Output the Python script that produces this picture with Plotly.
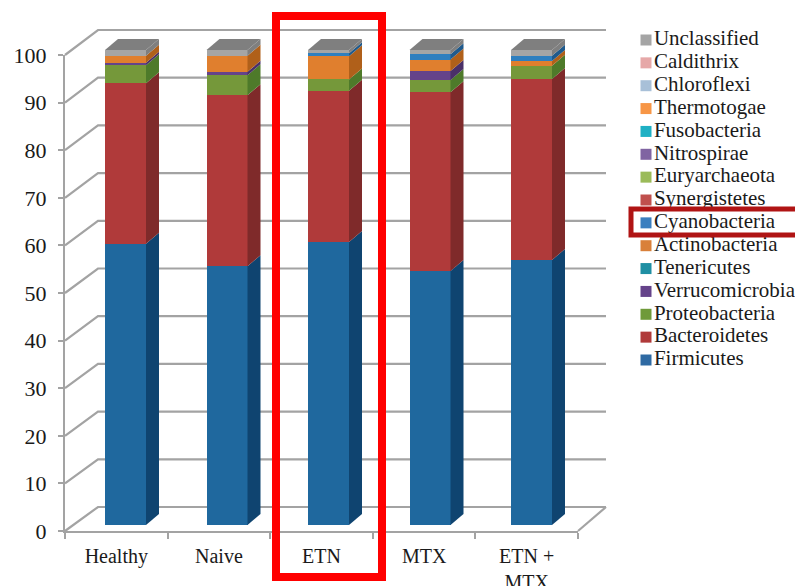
import plotly.graph_objects as go

W, H = 795, 586

groups = ["Healthy", "Naive", "ETN", "MTX", "ETN +<br>MTX"]
names = ["Firmicutes", "Bacteroidetes", "Proteobacteria", "Verrucomicrobia", "Tenericutes",
         "Actinobacteria", "Cyanobacteria", "Synergistetes", "Euryarchaeota", "Nitrospirae",
         "Fusobacteria", "Thermotogae", "Chloroflexi", "Caldithrix", "Unclassified"]

firmicutes = [59.2, 54.5, 59.6, 53.5, 55.8]
bacteroidetes = [33.8, 36.0, 31.8, 37.6, 38.1]
proteobacteria = [3.8, 4.2, 2.4, 2.6, 2.8]
verrucomicrobia = [0.5, 0.7, 0.0, 1.9, 0.0]
tenericutes = [0, 0, 0, 0, 0]
actinobacteria = [1.5, 3.4, 4.9, 2.4, 1.0]
cyanobacteria = [0.0, 0.0, 0.6, 1.1, 1.1]
synergistetes = [0, 0, 0, 0, 0]
euryarchaeota = [0, 0, 0, 0, 0]
nitrospirae = [0, 0, 0, 0, 0]
fusobacteria = [0, 0, 0, 0, 0]
thermotogae = [0, 0, 0, 0, 0]
chloroflexi = [0, 0, 0, 0, 0]
caldithrix = [0, 0, 0, 0, 0]
unclassified = [1.2, 1.2, 0.7, 0.9, 1.2]

series = [firmicutes, bacteroidetes, proteobacteria, verrucomicrobia, tenericutes,
          actinobacteria, cyanobacteria, synergistetes, euryarchaeota, nitrospirae,
          fusobacteria, thermotogae, chloroflexi, caldithrix, unclassified]

front_colors = ["#1F689E", "#B03A3A", "#75983A", "#65438A", "#1F8FA3",
                "#E07F2E", "#2F7FBF", "#C0504D", "#9BBB59", "#8064A2",
                "#1FB0C4", "#F79646", "#A8C0D8", "#E6A8A8", "#A5A5A5"]
side_colors = ["#0F4470", "#7F2A2A", "#4E7A2A", "#4A3068", "#156A7A",
               "#B0601A", "#1F5A8C", "#8C3A38", "#728A40", "#5C4878",
               "#15808F", "#B86E30", "#7C8EA0", "#A87C7C", "#7F7F7F"]
swatch_colors = ["#2F6AA3", "#B03A3A", "#6F9A3A", "#65438A", "#1F8FA3",
                 "#D9803A", "#3A7FBF", "#C0504D", "#9BBB59", "#8064A2",
                 "#1FB0C4", "#F79646", "#A8C0D8", "#E6A8A8", "#A5A5A5"]

TOP_COLOR = "#7F7F7F"
GRID = "#A3A3A3"
INK = "#1A1A1A"
FONT = "Liberation Serif"

# Scale of the drawing space shared by the walls and the bars
PX_PER_SLOT = 101.5
PX_PER_UNIT = 4.75
SLOT0_CENTER = 125.5
BASE_PX = 525
BAR_WIDTH = 0.404
BAR_DX = 13 / PX_PER_SLOT
BAR_DY = 11 / PX_PER_UNIT


def ux(px):
    return (px - SLOT0_CENTER) / PX_PER_SLOT


def uy(py):
    return (BASE_PX - py) / PX_PER_UNIT


fig = go.Figure()

# Chart walls and floor, on the first subplot so they sit behind the bars
FRONT_L, FRONT_R, FRONT_0, FRONT_100 = 65, 578, 531, 55
BACK_L, BACK_R, BACK_0, BACK_100 = 98, 606, 507, 30


def wall_line(xs, ys):
    fig.add_trace(go.Scatter(x=[ux(p) for p in xs], y=[uy(p) for p in ys], mode="lines",
                             line=dict(color=GRID, width=2.2), hoverinfo="skip",
                             showlegend=False, xaxis="x", yaxis="y"))


for tick in range(0, 101, 10):
    back_y = BACK_0 + (BACK_100 - BACK_0) * tick / 100
    front_y = FRONT_0 + (FRONT_100 - FRONT_0) * tick / 100
    wall_line([FRONT_L, BACK_L, BACK_R], [front_y, back_y, back_y])
wall_line([BACK_R, FRONT_R], [BACK_0, FRONT_0])

# Stacked front faces
slots = list(range(len(groups)))
for name, values, color in zip(names, series, front_colors):
    fig.add_trace(go.Bar(x=slots, y=values, name=name, width=BAR_WIDTH,
                         marker=dict(color=color, line=dict(width=0)),
                         showlegend=False, xaxis="x2", yaxis="y2"))

# Side and top faces follow the same stacked totals
for i in slots:
    left, right = i - BAR_WIDTH / 2, i + BAR_WIDTH / 2
    running = 0
    for values, color in zip(series, side_colors):
        v = values[i]
        if v > 0:
            fig.add_trace(go.Scatter(
                x=[right, right + BAR_DX, right + BAR_DX, right, right],
                y=[running, running + BAR_DY, running + v + BAR_DY, running + v, running],
                mode="lines", fill="toself", fillcolor=color, line=dict(width=0),
                hoverinfo="skip", showlegend=False, xaxis="x2", yaxis="y2"))
        running += v
    fig.add_trace(go.Scatter(
        x=[left, right, right + BAR_DX, left + BAR_DX, left],
        y=[running, running, running + BAR_DY, running + BAR_DY, running],
        mode="lines", fill="toself", fillcolor=TOP_COLOR, line=dict(width=0),
        hoverinfo="skip", showlegend=False, xaxis="x2", yaxis="y2"))

# Invisible carrier so the category axis keeps its labels
fig.add_trace(go.Scatter(x=groups, y=[0] * len(groups), mode="markers", opacity=0,
                         hoverinfo="skip", showlegend=False, xaxis="x3", yaxis="y3"))

# Key to the phyla, bottom row first
fig.add_trace(go.Scatter(
    x=[0] * len(names), y=list(range(len(names))), mode="markers+text",
    text=names, textposition="middle right",
    textfont=dict(family=FONT, size=21, color=INK),
    marker=dict(symbol="square", size=11, color=swatch_colors),
    cliponaxis=False, hoverinfo="skip", showlegend=False, xaxis="x4", yaxis="y4"))

hidden = dict(visible=False, fixedrange=True)
full_x = [ux(0), ux(W)]
full_y = [uy(H), uy(0)]
fig.update_layout(
    width=W, height=H, margin=dict(l=0, r=0, t=0, b=0),
    paper_bgcolor="white", plot_bgcolor="rgba(0,0,0,0)",
    barmode="stack", bargap=0, showlegend=False,
    xaxis=dict(domain=[0, 1], range=full_x, anchor="y", **hidden),
    yaxis=dict(domain=[0, 1], range=full_y, anchor="x", **hidden),
    xaxis2=dict(domain=[0, 1], range=full_x, anchor="y2", **hidden),
    yaxis2=dict(domain=[0, 1], range=full_y, anchor="x2", **hidden),
    xaxis3=dict(domain=[FRONT_L / W, FRONT_R / W], anchor="y3", type="category",
                categoryorder="array", categoryarray=groups, range=[-0.5, 4.5],
                tickson="boundaries", ticks="outside", ticklen=6, tickwidth=2, tickcolor=GRID,
                ticklabelstandoff=6,
                showline=True, linecolor=GRID, linewidth=2.2, showgrid=False, zeroline=False,
                automargin=False, tickfont=dict(family=FONT, size=20, color=INK)),
    yaxis3=dict(domain=[1 - FRONT_0 / H, 1 - FRONT_100 / H], anchor="x3", range=[0, 100],
                tickvals=list(range(0, 101, 10)), ticks="outside", ticklen=5, tickwidth=2,
                ticklabelstandoff=7,
                tickcolor=GRID, showline=True, linecolor=GRID, linewidth=2.2,
                showgrid=False, zeroline=False, automargin=False,
                tickfont=dict(family=FONT, size=22, color=INK)),
    xaxis4=dict(domain=[646 / W, 1], range=[0, 1], anchor="y4", **hidden),
    yaxis4=dict(domain=[1 - 360 / H, 1 - 40 / H], range=[0, 14], anchor="x4", **hidden),
    shapes=[
        dict(type="rect", xref="paper", yref="paper", x0=276 / W, x1=382 / W,
             y0=1 - 16 / H, y1=1 - 577 / H, line=dict(color="#FF0000", width=8)),
        dict(type="rect", xref="paper", yref="paper", x0=631 / W, x1=800 / W,
             y0=1 - 209 / H, y1=1 - 235 / H, line=dict(color="#B01414", width=5)),
    ],
)

fig.write_html("out.html")
